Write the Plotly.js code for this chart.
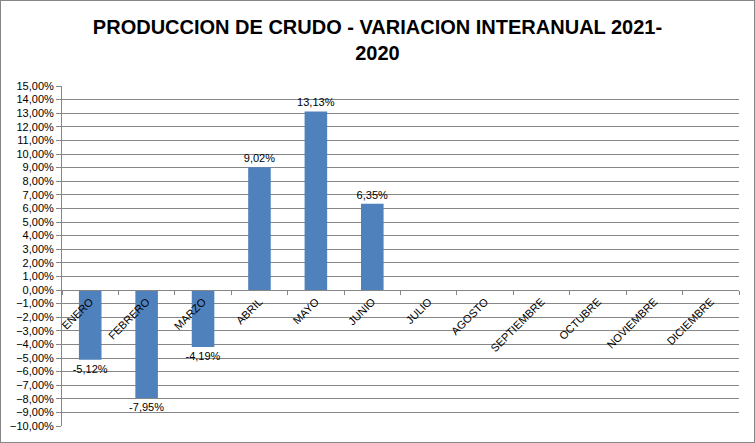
<!DOCTYPE html>
<html>
<head>
<meta charset="utf-8">
<script src="https://cdn.plot.ly/plotly-3.0.1.min.js"></script>
<style>
html,body{margin:0;padding:0;background:#fff;}
#chart{width:753px;height:441px;border:1px solid #868686;}
</style>
</head>
<body>
<div id="chart"></div>
<script>
const months = ["ENERO","FEBRERO","MARZO","ABRIL","MAYO","JUNIO","JULIO","AGOSTO","SEPTIEMBRE","OCTUBRE","NOVIEMBRE","DICIEMBRE"];
const variation = [-5.12, -7.95, -4.19, 9.02, 13.13, 6.35, null, null, null, null, null, null];
const chartTitle = "PRODUCCION DE CRUDO - VARIACION INTERANUAL 2021-<br>2020";

const labels = variation.map(v => v === null ? "" : v.toFixed(2).replace(".", ",") + "%");
const font = "Liberation Sans, Arial, sans-serif";

const trace = {
  type: "bar",
  x: months,
  y: variation,
  text: labels,
  textposition: "outside",
  constraintext: "none",
  cliponaxis: false,
  textfont: {family: font, size: 11, color: "#000"},
  marker: {color: "#4F81BD"},
  hoverinfo: "x+y"
};

const layout = {
  width: 753, height: 441,
  margin: {l: 61, r: 15, t: 85, b: 16},
  paper_bgcolor: "#fff", plot_bgcolor: "#fff",
  separators: ",.",
  bargap: 0.6,
  showlegend: false,
  title: {
    text: chartTitle,
    font: {family: font, size: 20, color: "#000", weight: "bold"},
    x: 0.5, xanchor: "center",
    yref: "container", y: 0.925, yanchor: "top"
  },
  xaxis: {
    type: "category",
    anchor: "free",
    position: 0.4,
    showline: true, linecolor: "#868686", linewidth: 1,
    ticks: "outside", ticklen: 4, tickcolor: "#868686",
    tickson: "boundaries",
    tickangle: -45,
    showgrid: false,
    tickfont: {family: font, size: 11, color: "#000"},
    fixedrange: true
  },
  yaxis: {
    range: [-10, 15],
    dtick: 1, tick0: 0,
    tickformat: ".2f", ticksuffix: "%",
    showline: true, linecolor: "#868686", linewidth: 1,
    ticks: "outside", ticklen: 5, tickcolor: "#868686",
    showgrid: true, gridcolor: "#868686", gridwidth: 1,
    zeroline: false,
    tickfont: {family: font, size: 11, color: "#000"},
    fixedrange: true
  }
};

Plotly.newPlot("chart", [trace], layout, {displayModeBar: false, staticPlot: true});
</script>
</body>
</html>
